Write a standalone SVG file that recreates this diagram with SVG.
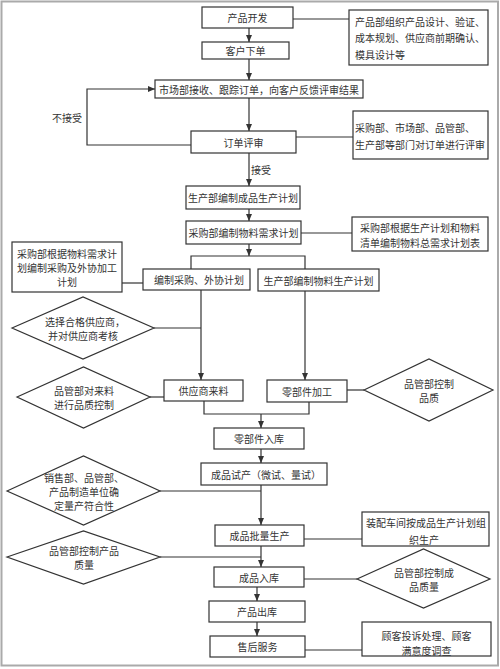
<svg xmlns="http://www.w3.org/2000/svg" width="500" height="669" viewBox="0 0 500 669">
<style>
.b{fill:#fff;stroke:#333;stroke-width:1.2}
.d{fill:#fff;stroke:#333;stroke-width:1.2}
.t{font-family:"Noto Sans CJK SC","Noto Sans",sans-serif;font-size:10px;fill:#333;text-anchor:middle;dominant-baseline:central}
.l{text-anchor:start}
.c{fill:none;stroke:#333;stroke-width:1.2}
</style>
<defs>
<marker id="a" markerUnits="userSpaceOnUse" markerWidth="8" markerHeight="6" refX="7" refY="3" orient="auto">
<path d="M0,0 L7,3 L0,6 z" fill="#333"/>
</marker>
</defs>
<rect x="0" y="0" width="500" height="669" fill="#fff"/>
<rect x="1.5" y="1.5" width="496.5" height="664" fill="none" stroke="#aaa" stroke-width="2"/>

<g id="connectors">
<path class="c" d="M249,28 V42" marker-end="url(#a)"/>
<path class="c" d="M249,59 V80" marker-end="url(#a)"/>
<path class="c" d="M249,98 V131" marker-end="url(#a)"/>
<path class="c" d="M249,153 V186" marker-end="url(#a)"/>
<path class="c" d="M249,209 V221" marker-end="url(#a)"/>
<path class="c" d="M249,244 V256" marker-end="url(#a)"/>
<path class="c" d="M191,269 V256 H305 V269"/>
<path class="c" d="M191,145 H87 V89 H155" marker-end="url(#a)"/>
<path class="c" d="M293,19 H349"/>
<path class="c" d="M296,137 H353"/>
<path class="c" d="M301,233 H352"/>
<path class="c" d="M122,283 H143"/>
<path class="c" d="M201,290 V380" marker-end="url(#a)"/>
<path class="c" d="M154,328 H201"/>
<path class="c" d="M305,291 V380" marker-end="url(#a)"/>
<path class="c" d="M150,397 H164"/>
<path class="c" d="M347,390 H364"/>
<path class="c" d="M204,401 V414 H309 V402"/>
<path class="c" d="M261,414 V428" marker-end="url(#a)"/>
<path class="c" d="M261,449 V463" marker-end="url(#a)"/>
<path class="c" d="M261,485 V525" marker-end="url(#a)"/>
<path class="c" d="M160,491 H261"/>
<path class="c" d="M304,539 H362"/>
<path class="c" d="M261,546 V567" marker-end="url(#a)"/>
<path class="c" d="M160,557 H261"/>
<path class="c" d="M304,579 H357"/>
<path class="c" d="M257,587 V601" marker-end="url(#a)"/>
<path class="c" d="M257,622 V636" marker-end="url(#a)"/>
<path class="c" d="M305,650 H362"/>
<text class="t" x="67" y="117">不接受</text>
<text class="t l" x="251" y="169">接受</text>
</g>

<g id="n1"><rect class="b" x="202" y="7" width="91" height="21"/><text class="t" x="247.5" y="17.5">产品开发</text></g>
<g id="n2"><rect class="b" x="202" y="42" width="87" height="17"/><text class="t" x="245.5" y="50.5">客户下单</text></g>
<g id="n3"><rect class="b" x="155" y="80" width="208" height="18"/><text class="t" x="259" y="89">市场部接收、跟踪订单，向客户反馈评审结果</text></g>
<g id="n4"><rect class="b" x="191" y="131" width="105" height="22"/><text class="t" x="243.5" y="142">订单评审</text></g>
<g id="r1"><rect class="b" x="349" y="10" width="139" height="55"/>
<text class="t l" x="355" y="21">产品部组织产品设计、验证、</text>
<text class="t l" x="355" y="37">成本规划、供应商前期确认、</text>
<text class="t l" x="355" y="54">模具设计等</text></g>
<g id="r2"><rect class="b" x="353" y="111" width="135" height="48"/>
<text class="t l" x="355" y="127">采购部、市场部、品管部、</text>
<text class="t l" x="355" y="144">生产部等部门对订单进行评审</text></g>
<g id="n5"><rect class="b" x="186" y="186" width="114" height="23"/><text class="t" x="243" y="197.5">生产部编制成品生产计划</text></g>
<g id="n6"><rect class="b" x="186" y="221" width="115" height="23"/><text class="t" x="243.5" y="232.5">采购部编制物料需求计划</text></g>
<g id="r3"><rect class="b" x="352" y="217" width="136" height="34"/>
<text class="t" x="420" y="227">采购部根据生产计划和物料</text>
<text class="t" x="420" y="242">清单编制物料总需求计划表</text></g>
<g id="n7"><rect class="b" x="143" y="269" width="107" height="21"/><text class="t" x="199" y="279.5">编制采购、外协计划</text></g>
<g id="n8"><rect class="b" x="258" y="269" width="121" height="22"/><text class="t" x="318.5" y="280">生产部编制物料生产计划</text></g>
<g id="l1"><rect class="b" x="12" y="242" width="110" height="50"/>
<text class="t" x="67" y="253">采购部根据物料需求计</text>
<text class="t" x="67" y="267">划编制采购及外协加工</text>
<text class="t" x="67" y="281">计划</text></g>
<g id="d1"><path class="d" d="M12,328 L83,297 L154,328 L83,359 Z"/>
<text class="t" x="85" y="321">选择合格供应商，</text>
<text class="t" x="83" y="335">并对供应商考核</text></g>
<g id="n9"><rect class="b" x="164" y="380" width="79" height="21"/><text class="t" x="203.5" y="390.5">供应商来料</text></g>
<g id="d2"><path class="d" d="M17,397 L83.5,367 L150,397 L83.5,428 Z"/>
<text class="t" x="84" y="390">品管部对来料</text>
<text class="t" x="84" y="404">进行品质控制</text></g>
<g id="n10"><rect class="b" x="267" y="380" width="80" height="22"/><text class="t" x="307" y="391">零部件加工</text></g>
<g id="d3"><path class="d" d="M364,390 L429,359 L493,390 L429,421 Z"/>
<text class="t" x="429" y="383">品管部控制</text>
<text class="t" x="429" y="397">品质</text></g>
<g id="n11"><rect class="b" x="214" y="428" width="90" height="21"/><text class="t" x="259" y="438.5">零部件入库</text></g>
<g id="n12"><rect class="b" x="201" y="463" width="126" height="22"/><text class="t" x="266" y="474">成品试产（微试、量试）</text></g>
<g id="d4"><path class="d" d="M7,491 L83.5,456 L160,491 L83.5,525 Z"/>
<text class="t" x="84" y="477">销售部、品管部、</text>
<text class="t" x="84" y="491">产品制造单位确</text>
<text class="t" x="84" y="505">定量产符合性</text></g>
<g id="n13"><rect class="b" x="215" y="525" width="89" height="21"/><text class="t" x="259.5" y="535.5">成品批量生产</text></g>
<g id="r4"><rect class="b" x="362" y="512" width="127" height="34"/>
<text class="t l" x="366" y="522">装配车间按成品生产计划组</text>
<text class="t" x="424" y="539">织生产</text></g>
<g id="d5"><path class="d" d="M7,557 L83.5,531 L160,557 L83.5,584 Z"/>
<text class="t" x="84" y="550.5">品管部控制产品</text>
<text class="t" x="84" y="564.5">质量</text></g>
<g id="n14"><rect class="b" x="214" y="567" width="90" height="20"/><text class="t" x="259" y="577">成品入库</text></g>
<g id="d6"><path class="d" d="M357,579 L423.5,549 L490,579 L423.5,608 Z"/>
<text class="t" x="424" y="572">品管部控制成</text>
<text class="t" x="424" y="586">品质量</text></g>
<g id="n15"><rect class="b" x="209" y="601" width="96" height="21"/><text class="t" x="257" y="611.5">产品出库</text></g>
<g id="n16"><rect class="b" x="210" y="636" width="95" height="21"/><text class="t" x="257.5" y="646.5">售后服务</text></g>
<g id="r5"><rect class="b" x="362" y="622" width="129" height="34"/>
<text class="t" x="426.5" y="635.5">顾客投诉处理、顾客</text>
<text class="t" x="426.5" y="650">满意度调查</text></g>
</svg>
